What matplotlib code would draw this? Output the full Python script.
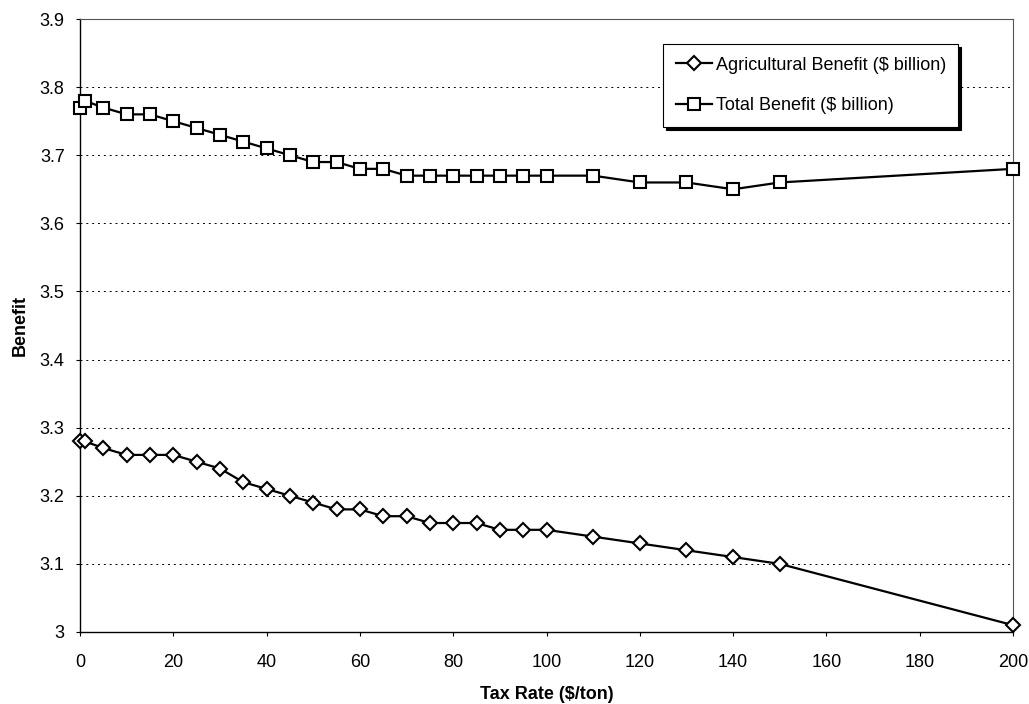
import matplotlib.pyplot as plt
from matplotlib.ticker import FuncFormatter

plt.rcParams['font.family'] = ['Liberation Sans', 'DejaVu Sans']

tax_rate = [0, 1, 5, 10, 15, 20, 25, 30, 35, 40, 45, 50, 55, 60, 65, 70,
            75, 80, 85, 90, 95, 100, 110, 120, 130, 140, 150, 200]
ag_benefit = [3.28, 3.28, 3.27, 3.26, 3.26, 3.26, 3.25, 3.24, 3.22, 3.21, 3.20,
              3.19, 3.18, 3.18, 3.17, 3.17, 3.16, 3.16, 3.16, 3.15, 3.15, 3.15,
              3.14, 3.13, 3.12, 3.11, 3.10, 3.01]
total_benefit = [3.77, 3.78, 3.77, 3.76, 3.76, 3.75, 3.74, 3.73, 3.72, 3.71, 3.70,
                 3.69, 3.69, 3.68, 3.68, 3.67, 3.67, 3.67, 3.67, 3.67, 3.67, 3.67,
                 3.67, 3.66, 3.66, 3.65, 3.66, 3.68]
y_ticks = [3.0, 3.1, 3.2, 3.3, 3.4, 3.5, 3.6, 3.7, 3.8, 3.9]
x_ticks = [0, 20, 40, 60, 80, 100, 120, 140, 160, 180, 200]

fig = plt.figure(figsize=(10.29, 7.04), dpi=100)
ax = fig.add_axes([0.0777, 0.1023, 0.9068, 0.8707])

ax.plot(tax_rate, ag_benefit, color='black', lw=1.6, marker='D', ms=7.5,
        mfc='white', mec='black', mew=1.5, label='Agricultural Benefit ($ billion)',
        clip_on=False, zorder=3)
ax.plot(tax_rate, total_benefit, color='black', lw=1.6, marker='s', ms=8,
        mfc='white', mec='black', mew=1.5, label='Total Benefit ($ billion)',
        clip_on=False, zorder=3)

ax.set_xlim(0, 200)
ax.set_ylim(3.0, 3.9)
ax.set_xticks(x_ticks)
ax.set_yticks(y_ticks)
ax.yaxis.set_major_formatter(FuncFormatter(lambda v, p: '%g' % round(v, 2)))
ax.tick_params(direction='out', length=3, width=0.8, labelsize=13, colors='black')
ax.tick_params(axis='x', pad=13)
ax.tick_params(axis='y', pad=8)

ax.yaxis.grid(True, color='black', linestyle=(0, (2, 4)), linewidth=0.7)
ax.set_axisbelow(True)

for s in ['left', 'bottom']:
    ax.spines[s].set_color('black')
    ax.spines[s].set_linewidth(1.0)
for s in ['top', 'right']:
    ax.spines[s].set_color('#555555')
    ax.spines[s].set_linewidth(0.8)

ax.set_xlabel('Tax Rate ($/ton)', fontsize=13, fontweight='bold', labelpad=11)
ax.set_ylabel('Benefit', fontsize=13, fontweight='bold', labelpad=8)

leg = ax.legend(loc='upper left', bbox_to_anchor=(0.625, 0.959), fontsize=13,
                frameon=True, fancybox=False, edgecolor='black',
                shadow={'color': 'black', 'alpha': 1}, framealpha=1,
                handlelength=2.0, handletextpad=0.2, labelspacing=1.3,
                borderpad=0.7, borderaxespad=0)
leg.get_frame().set_linewidth(0.8)

fig.savefig('out.png', dpi=100)
